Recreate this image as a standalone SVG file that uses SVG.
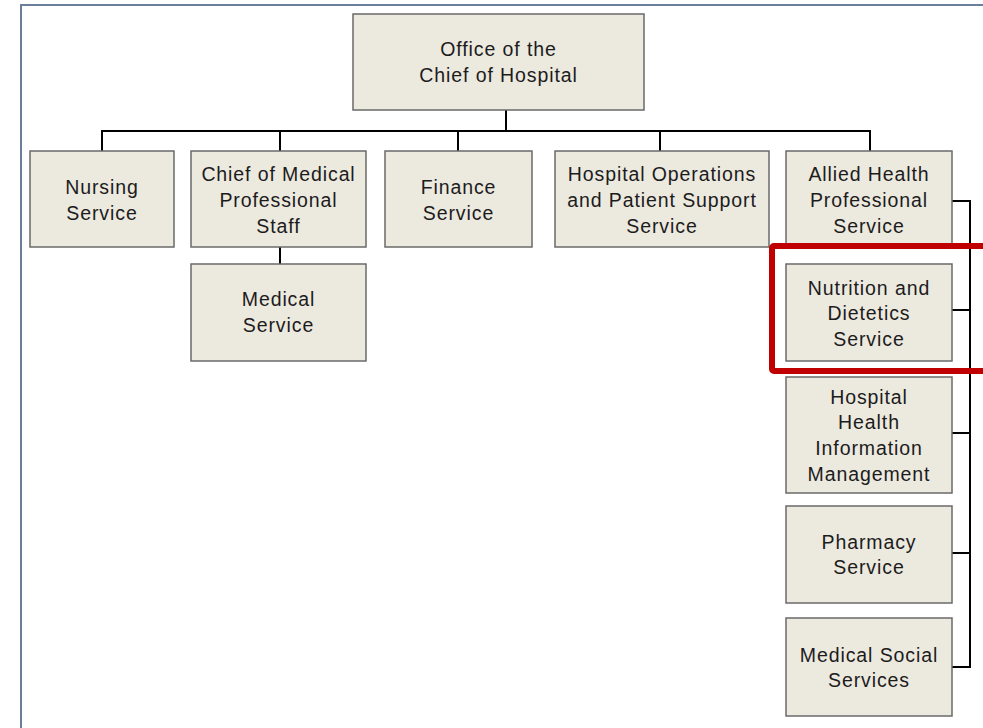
<svg xmlns="http://www.w3.org/2000/svg" width="983" height="728" viewBox="0 0 983 728">
<style>
.box{fill:#ece9df;stroke:#6a6a6a;stroke-width:1.5}
.t{font-family:"Liberation Sans",Arial,sans-serif;font-size:19.5px;letter-spacing:0.9px;fill:#1c1c1c;text-anchor:middle}
.c{fill:none;stroke:#000;stroke-width:2}
</style>
<rect x="0" y="0" width="983" height="728" fill="#fff"/>
<path d="M21 728V5H983" fill="none" stroke="#6b7f9b" stroke-width="2"/>
<g id="connectors">
<path class="c" d="M506 110V131M102 151V131H870V151M280 131V151M458 131V151M660 131V151"/>
<path class="c" d="M280 247V264"/>
<path class="c" d="M952 201H970V667H952M952 310H970M952 433H970M952 553H970"/>
</g>
<g id="office"><rect class="box" x="353" y="14" width="291" height="96"/><text class="t" x="498.5" y="56">Office of the</text><text class="t" x="498.5" y="82">Chief of Hospital</text></g>
<g id="nursing"><rect class="box" x="30" y="151" width="144" height="96"/><text class="t" x="102" y="194">Nursing</text><text class="t" x="102" y="220">Service</text></g>
<g id="chief-medical"><rect class="box" x="191" y="151" width="175" height="96"/><text class="t" x="278.5" y="181">Chief of Medical</text><text class="t" x="278.5" y="207">Professional</text><text class="t" x="278.5" y="233">Staff</text></g>
<g id="finance"><rect class="box" x="385" y="151" width="147" height="96"/><text class="t" x="458.5" y="194">Finance</text><text class="t" x="458.5" y="220">Service</text></g>
<g id="hospital-ops"><rect class="box" x="555" y="151" width="214" height="96"/><text class="t" x="662" y="181">Hospital Operations</text><text class="t" x="662" y="207">and Patient Support</text><text class="t" x="662" y="233">Service</text></g>
<g id="allied"><rect class="box" x="786" y="151" width="166" height="96"/><text class="t" x="869" y="181">Allied Health</text><text class="t" x="869" y="207">Professional</text><text class="t" x="869" y="233">Service</text></g>
<g id="medical-service"><rect class="box" x="191" y="264" width="175" height="97"/><text class="t" x="278.5" y="306">Medical</text><text class="t" x="278.5" y="332">Service</text></g>
<g id="nutrition"><rect class="box" x="786" y="264" width="166" height="97"/><text class="t" x="869" y="295">Nutrition and</text><text class="t" x="869" y="320">Dietetics</text><text class="t" x="869" y="346">Service</text></g>
<g id="hhim"><rect class="box" x="786" y="377" width="166" height="116"/><text class="t" x="869" y="404">Hospital</text><text class="t" x="869" y="429">Health</text><text class="t" x="869" y="455">Information</text><text class="t" x="869" y="481">Management</text></g>
<g id="pharmacy"><rect class="box" x="786" y="506" width="166" height="97"/><text class="t" x="869" y="549">Pharmacy</text><text class="t" x="869" y="574">Service</text></g>
<g id="social"><rect class="box" x="786" y="618" width="166" height="98"/><text class="t" x="869" y="662">Medical Social</text><text class="t" x="869" y="687">Services</text></g>
<rect id="highlight" x="772" y="246" width="220" height="125" rx="2" fill="none" stroke="#c00000" stroke-width="6"/>
</svg>
